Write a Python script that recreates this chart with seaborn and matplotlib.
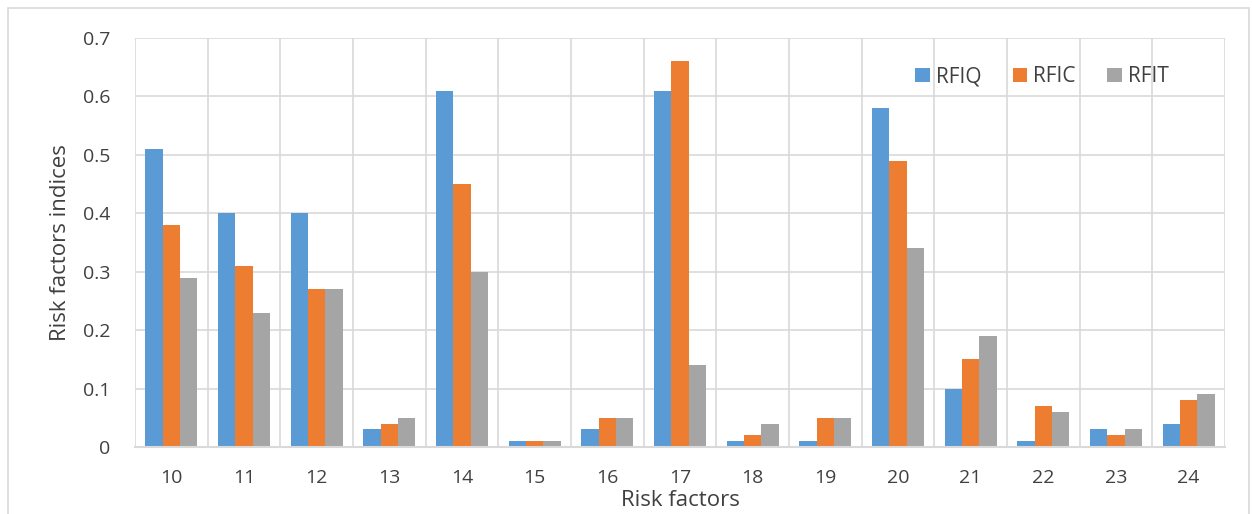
import matplotlib
matplotlib.use("Agg")
import matplotlib.pyplot as plt
import seaborn as sns
import pandas as pd
from matplotlib.patches import Rectangle

categories = ["10", "11", "12", "13", "14", "15", "16", "17", "18", "19", "20", "21", "22", "23", "24"]
rfiq = [0.51, 0.40, 0.40, 0.03, 0.61, 0.01, 0.03, 0.61, 0.01, 0.01, 0.58, 0.10, 0.01, 0.03, 0.04]
rfic = [0.38, 0.31, 0.27, 0.04, 0.45, 0.01, 0.05, 0.66, 0.02, 0.05, 0.49, 0.15, 0.07, 0.02, 0.08]
rfit = [0.29, 0.23, 0.27, 0.05, 0.30, 0.01, 0.05, 0.14, 0.04, 0.05, 0.34, 0.19, 0.06, 0.03, 0.09]
series_names = ["RFIQ", "RFIC", "RFIT"]
y_ticks = [0, 0.1, 0.2, 0.3, 0.4, 0.5, 0.6, 0.7]
y_tick_labels = ["0", "0.1", "0.2", "0.3", "0.4", "0.5", "0.6", "0.7"]

df = pd.DataFrame({
    "factor": categories * 3,
    "value": rfiq + rfic + rfit,
    "series": [series_names[0]] * 15 + [series_names[1]] * 15 + [series_names[2]] * 15,
})

sns.set_theme(style="white")
plt.rcParams["font.family"] = ["Open Sans", "DejaVu Sans"]

fig = plt.figure(figsize=(12.52, 5.14), dpi=100)
ax = fig.add_axes([135 / 1252, 67 / 514, 1090 / 1252, 409 / 514])

palette = {"RFIQ": "#5B9BD5", "RFIC": "#ED7D31", "RFIT": "#A5A5A5"}
sns.barplot(data=df, x="factor", y="value", hue="series", order=categories,
            hue_order=series_names, palette=palette, width=0.72, ax=ax,
            saturation=1, edgecolor="none", linewidth=0, zorder=3)

ax.set_xlim(-0.5, len(categories) - 0.5)
ax.set_ylim(0, 0.7)
ax.set_yticks(y_ticks)
ax.set_yticklabels(y_tick_labels)

grid_c = "#d9d9d9"
for yv in y_ticks[1:]:
    ax.axhline(yv, color=grid_c, lw=1.2, zorder=1)
for i in range(len(categories) + 1):
    ax.axvline(i - 0.5, color=grid_c, lw=1.2, zorder=1)

for s in ["top", "right", "left"]:
    ax.spines[s].set_visible(False)
ax.spines["bottom"].set_color(grid_c)
ax.spines["bottom"].set_linewidth(1.5)
ax.spines["bottom"].set_zorder(4)

ax.tick_params(axis="both", length=0, labelsize=14, colors="#404040")
ax.tick_params(axis="x", pad=16)
ax.tick_params(axis="y", pad=18)
ax.set_xlabel("Risk factors", fontsize=16, color="#404040", labelpad=2)
ax.set_ylabel("Risk factors indices", fontsize=16, color="#404040", labelpad=8)

leg = ax.legend(loc="center", bbox_to_anchor=(0.832, 0.905), ncol=3, frameon=False,
                fontsize=15, handlelength=0.7, handleheight=0.7, handletextpad=0.3,
                columnspacing=1.5, labelcolor="#404040")

fig.patches.append(Rectangle((8 / 1252, -0.05), 1241 / 1252, 1.05 - 8 / 514,
                             transform=fig.transFigure, fill=False,
                             edgecolor="#d9d9d9", lw=1.2))

fig.savefig("out.png", dpi=100)
